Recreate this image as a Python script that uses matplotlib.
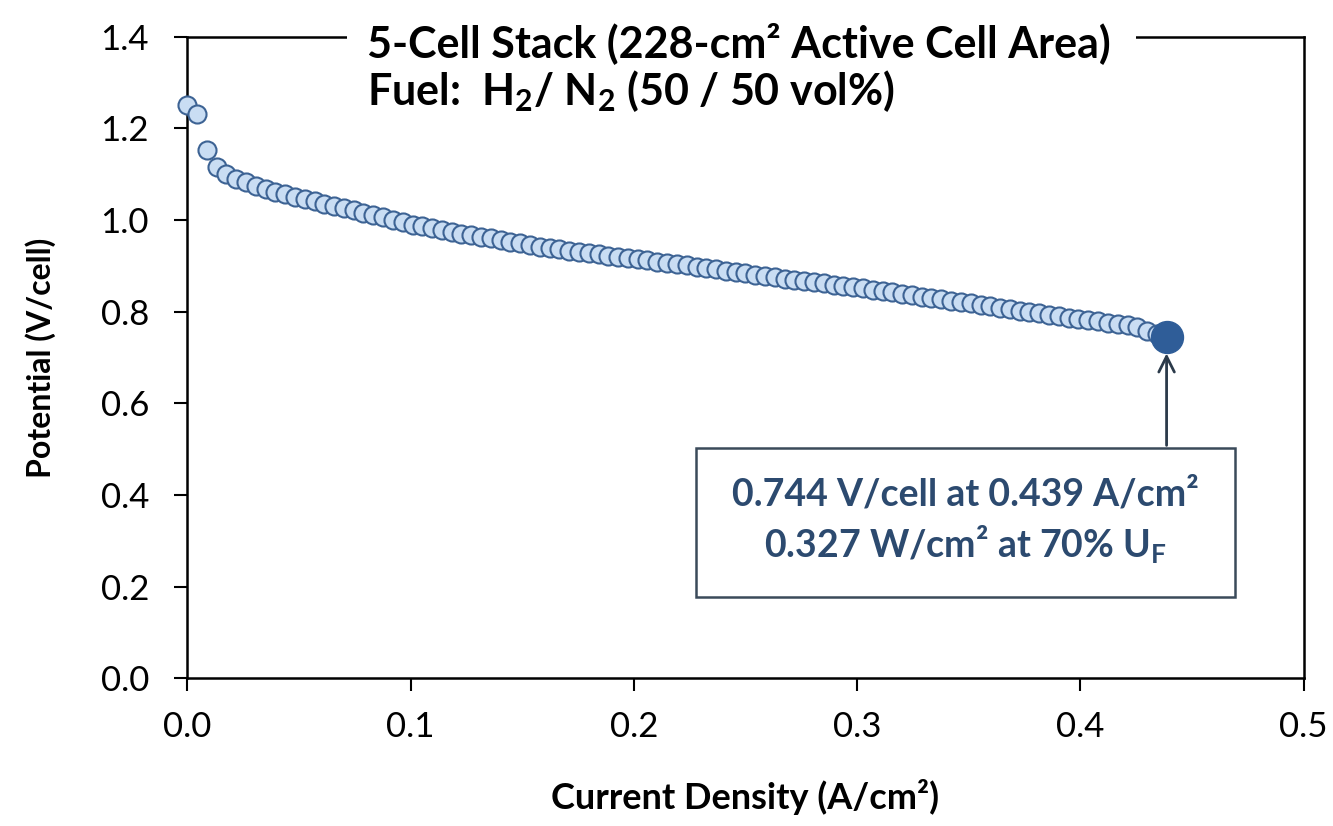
import matplotlib
matplotlib.use('Agg')
import matplotlib.pyplot as plt
from matplotlib.patches import Rectangle

plt.rcParams['font.family'] = ['Lato', 'DejaVu Sans']
plt.rcParams['mathtext.fontset'] = 'custom'
plt.rcParams['mathtext.rm'] = 'Lato'
plt.rcParams['mathtext.bf'] = 'Lato:bold'

# current density (A/cm2), 1 A steps on a 228 cm2 cell
current_density = [
    0.0000, 0.0044, 0.0088, 0.0132, 0.0175, 0.0219, 0.0263, 0.0307, 0.0351, 0.0395,
    0.0439, 0.0482, 0.0526, 0.0570, 0.0614, 0.0658, 0.0702, 0.0746, 0.0789, 0.0833,
    0.0877, 0.0921, 0.0965, 0.1009, 0.1053, 0.1096, 0.1140, 0.1184, 0.1228, 0.1272,
    0.1316, 0.1360, 0.1404, 0.1447, 0.1491, 0.1535, 0.1579, 0.1623, 0.1667, 0.1711,
    0.1754, 0.1798, 0.1842, 0.1886, 0.1930, 0.1974, 0.2018, 0.2061, 0.2105, 0.2149,
    0.2193, 0.2237, 0.2281, 0.2325, 0.2368, 0.2412, 0.2456, 0.2500, 0.2544, 0.2588,
    0.2632, 0.2675, 0.2719, 0.2763, 0.2807, 0.2851, 0.2895, 0.2939, 0.2982, 0.3026,
    0.3070, 0.3114, 0.3158, 0.3202, 0.3246, 0.3289, 0.3333, 0.3377, 0.3421, 0.3465,
    0.3509, 0.3553, 0.3596, 0.3640, 0.3684, 0.3728, 0.3772, 0.3816, 0.3860, 0.3904,
    0.3947, 0.3991, 0.4035, 0.4079, 0.4123, 0.4167, 0.4211, 0.4254, 0.4298, 0.4342,
    0.4386,
]

# cell potential (V/cell)
potential = [
    1.251, 1.232, 1.153, 1.116, 1.101, 1.090, 1.082, 1.075, 1.068, 1.062,
    1.056, 1.051, 1.046, 1.041, 1.036, 1.031, 1.026, 1.021, 1.016, 1.011,
    1.006, 1.001, 0.995, 0.990, 0.986, 0.982, 0.978, 0.974, 0.970, 0.967,
    0.963, 0.960, 0.956, 0.952, 0.949, 0.945, 0.942, 0.939, 0.936, 0.933,
    0.930, 0.927, 0.925, 0.922, 0.919, 0.917, 0.914, 0.912, 0.909, 0.907,
    0.904, 0.901, 0.898, 0.895, 0.892, 0.889, 0.886, 0.884, 0.881, 0.878,
    0.875, 0.872, 0.870, 0.867, 0.865, 0.862, 0.859, 0.856, 0.854, 0.851,
    0.848, 0.845, 0.842, 0.839, 0.836, 0.833, 0.830, 0.827, 0.824, 0.821,
    0.818, 0.815, 0.812, 0.809, 0.806, 0.802, 0.799, 0.796, 0.793, 0.790,
    0.787, 0.784, 0.781, 0.779, 0.776, 0.773, 0.771, 0.766, 0.758, 0.751,
    0.744,
]

x_ticks = [0.0, 0.1, 0.2, 0.3, 0.4, 0.5]
y_ticks = [0.0, 0.2, 0.4, 0.6, 0.8, 1.0, 1.2, 1.4]

note_lines = ['0.744 V/cell at 0.439 A/cm\u00b2',
              '0.327 W/cm\u00b2 at 70% U$_\\mathbf{F}$']

fig = plt.figure(figsize=(13.33, 8.26), dpi=100)
ax = fig.add_axes([0.1405, 0.179, 0.8375, 0.7765])

ax.plot(current_density[:-1], potential[:-1], 'o', ms=13, mfc='#c9ddf3',
        mec='#3d6394', mew=1.5, zorder=4, clip_on=False)
ax.plot(current_density[-1], potential[-1], 'o', ms=23, mfc='#2f5d98',
        mec='#2f5d98', zorder=5, clip_on=False)

ax.set_xlim(0, 0.5)
ax.set_ylim(0, 1.4)
ax.set_xticks(x_ticks)
ax.set_yticks(y_ticks)
ax.set_xticklabels(['%.1f' % t for t in x_ticks])
ax.set_yticklabels(['%.1f' % t for t in y_ticks])
ax.tick_params(labelsize=25, length=9.5, width=1.5, direction='out',
               colors='black')
ax.tick_params(axis='y', pad=18)
ax.tick_params(axis='x', pad=14)
for s in ax.spines.values():
    s.set_linewidth(1.8)

ax.set_xlabel('Current Density (A/cm\u00b2)', fontsize=26, fontweight='bold',
              labelpad=26)
ax.set_ylabel('Potential (V/cell)', fontsize=23, fontweight='bold',
              labelpad=32)

# title block sits over the top border
ax.add_patch(Rectangle((0.143, 0.95), 0.7065, 0.08, transform=ax.transAxes,
                       facecolor='white', edgecolor='none', clip_on=False,
                       zorder=6))
ax.text(0.161, 0.99, '5-Cell Stack (228-cm\u00b2 Active Cell Area)',
        transform=ax.transAxes, fontsize=31, fontweight='bold', va='center',
        ha='left', zorder=7, clip_on=False)
ax.text(0.161, 0.915, r'Fuel:  H$_\mathbf{2}$/ N$_\mathbf{2}$ (50 / 50 vol%)',
        transform=ax.transAxes, fontsize=31, fontweight='bold', va='center',
        ha='left', zorder=7)

# annotation box and arrow
ax.add_patch(Rectangle((0.2278, 0.177), 0.2414, 0.325, facecolor='white',
                       edgecolor='#3b4a5a', linewidth=1.8, zorder=3))
ax.text(0.3485, 0.402, note_lines[0], fontsize=27, fontweight='bold',
        color='#2c4a6f', ha='center', va='center', zorder=4)
ax.text(0.3485, 0.29, note_lines[1], fontsize=27, fontweight='bold',
        color='#2c4a6f', ha='center', va='center', zorder=4)
ax.annotate('', xy=(current_density[-1], 0.715),
            xytext=(current_density[-1], 0.502),
            arrowprops=dict(arrowstyle='->', color='#2b3a4a', lw=2,
                            mutation_scale=28))

plt.savefig('out.png', dpi=100)
